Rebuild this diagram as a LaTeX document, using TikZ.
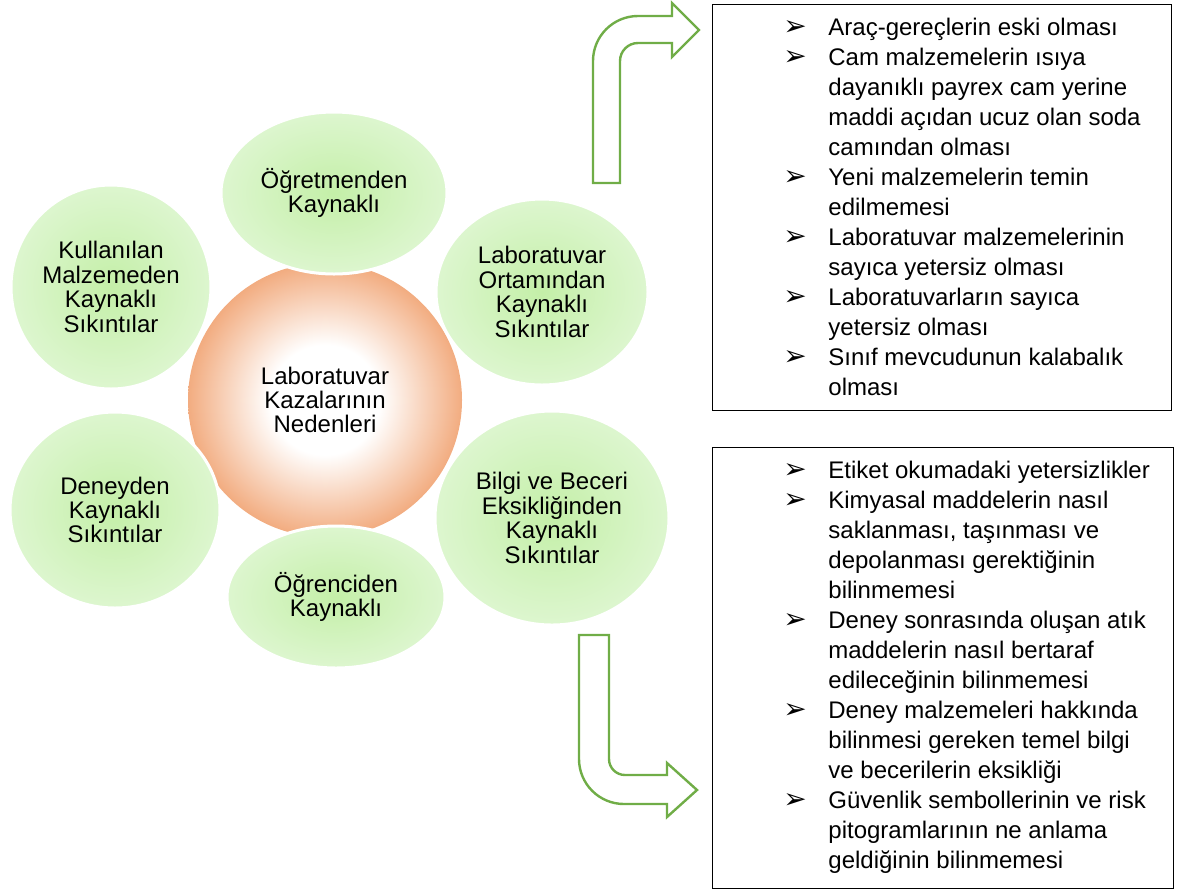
\documentclass[tikz,border=0pt]{standalone}
\usepackage{fontspec}
\setmainfont{Liberation Sans}
\newfontfamily\dingfont{DejaVu Sans}
\usetikzlibrary{shapes.geometric, positioning}
\definecolor{leafin}{RGB}{196,239,168}
\definecolor{leafout}{RGB}{221,246,207}
\definecolor{peach}{RGB}{242,172,128}
\definecolor{arrowgreen}{RGB}{112,173,71}
\pgfdeclareradialshading{leafshade}{\pgfpoint{0bp}{0bp}}{color(0bp)=(leafin); color(25bp)=(leafout); color(50bp)=(leafout)}
\pgfdeclareradialshading{peachshade}{\pgfpoint{0bp}{0bp}}{color(0bp)=(white); color(10bp)=(white); color(25bp)=(peach); color(50bp)=(peach)}
\newcommand{\arrowbullet}{{\dingfont\fontsize{14}{15}\selectfont ➢}}
\tikzset{
    core/.style={circle, shading=peachshade, minimum size=137pt, inner sep=0pt, align=center, font=\fontsize{12}{12.2}\selectfont},
    cause/.style={ellipse, draw=white, line width=1.5pt, shading=leafshade, inner sep=0pt, align=center, font=\fontsize{12}{12.2}\selectfont},
    list box/.style={draw=black, line width=0.6pt, anchor=north west, inner sep=0pt},
    list text/.style={anchor=north west, inner sep=0pt, font=\fontsize{12}{15}\selectfont},
    bend arrow/.style={draw=arrowgreen, line width=1.2pt, fill=white, line join=miter}
}

\begin{document}
\begin{tikzpicture}[x=0.5pt, y=-0.5pt]
    \useasboundingbox (0,0) rectangle (1182,890);

    \node[core] (hub) at (325,400) {Laboratuvar\\Kazalarının\\Nedenleri};

    \node[cause, minimum width=113pt, minimum height=81pt] (teacher) at (334,193) {Öğretmenden\\Kaynaklı};
    \node[cause, minimum width=100pt, minimum height=102pt] (material) at (111,287) {Kullanılan\\Malzemeden\\Kaynaklı\\Sıkıntılar};
    \node[cause, minimum width=105pt, minimum height=98pt] (experiment) at (115,510) {Deneyden\\Kaynaklı\\Sıkıntılar};
    \node[cause, minimum width=109pt, minimum height=71pt] (student) at (336,597) {Öğrenciden\\Kaynaklı};
    \node[cause, minimum width=106pt, minimum height=93pt] (lab) at (542,292) {Laboratuvar\\Ortamından\\Kaynaklı\\Sıkıntılar};
    \node[cause, minimum width=117pt, minimum height=107pt] (skill) at (552,518) {Bilgi ve Beceri\\Eksikliğinden\\Kaynaklı\\Sıkıntılar};

    % bent arrows
    \draw[bend arrow] (593,183) -- (593,61) arc[start angle=180, end angle=90, radius=22.5pt]
        -- (672,16) -- (672,3) -- (699,30) -- (672,57) -- (672,43) -- (638,43)
        arc[start angle=90, end angle=180, radius=9pt] -- (620,183) -- cycle;
    \draw[bend arrow] (579,635) -- (579,759) arc[start angle=180, end angle=270, radius=22.5pt]
        -- (667,804) -- (667,817) -- (697,790) -- (667,763) -- (667,775) -- (625,775)
        arc[start angle=270, end angle=180, radius=8pt] -- (609,635) -- cycle;

    \node[list box, minimum width=229.5pt, minimum height=203pt] (labbox) at (712,4) {};
    \node[list text] (lablist) at ([shift={(71,10)}]labbox.north west) {%
        \begin{tabular}{@{}p{22.5pt}@{}l@{}}
        \arrowbullet & Araç-gereçlerin eski olması\\
        \arrowbullet & Cam malzemelerin ısıya\\
        & dayanıklı payrex cam yerine\\
        & maddi açıdan ucuz olan soda\\
        & camından olması\\
        \arrowbullet & Yeni malzemelerin temin\\
        & edilmemesi\\
        \arrowbullet & Laboratuvar malzemelerinin\\
        & sayıca yetersiz olması\\
        \arrowbullet & Laboratuvarların sayıca\\
        & yetersiz olması\\
        \arrowbullet & Sınıf mevcudunun kalabalık\\
        & olması
        \end{tabular}};

    \node[list box, minimum width=230.5pt, minimum height=220.5pt] (skillbox) at (712,447) {};
    \node[list text] (skilllist) at ([shift={(71,10)}]skillbox.north west) {%
        \begin{tabular}{@{}p{22.5pt}@{}l@{}}
        \arrowbullet & Etiket okumadaki yetersizlikler\\
        \arrowbullet & Kimyasal maddelerin nasıl\\
        & saklanması, taşınması ve\\
        & depolanması gerektiğinin\\
        & bilinmemesi\\
        \arrowbullet & Deney sonrasında oluşan atık\\
        & maddelerin nasıl bertaraf\\
        & edileceğinin bilinmemesi\\
        \arrowbullet & Deney malzemeleri hakkında\\
        & bilinmesi gereken temel bilgi\\
        & ve becerilerin eksikliği\\
        \arrowbullet & Güvenlik sembollerinin ve risk\\
        & pitogramlarının ne anlama\\
        & geldiğinin bilinmemesi
        \end{tabular}};

\end{tikzpicture}
\end{document}
